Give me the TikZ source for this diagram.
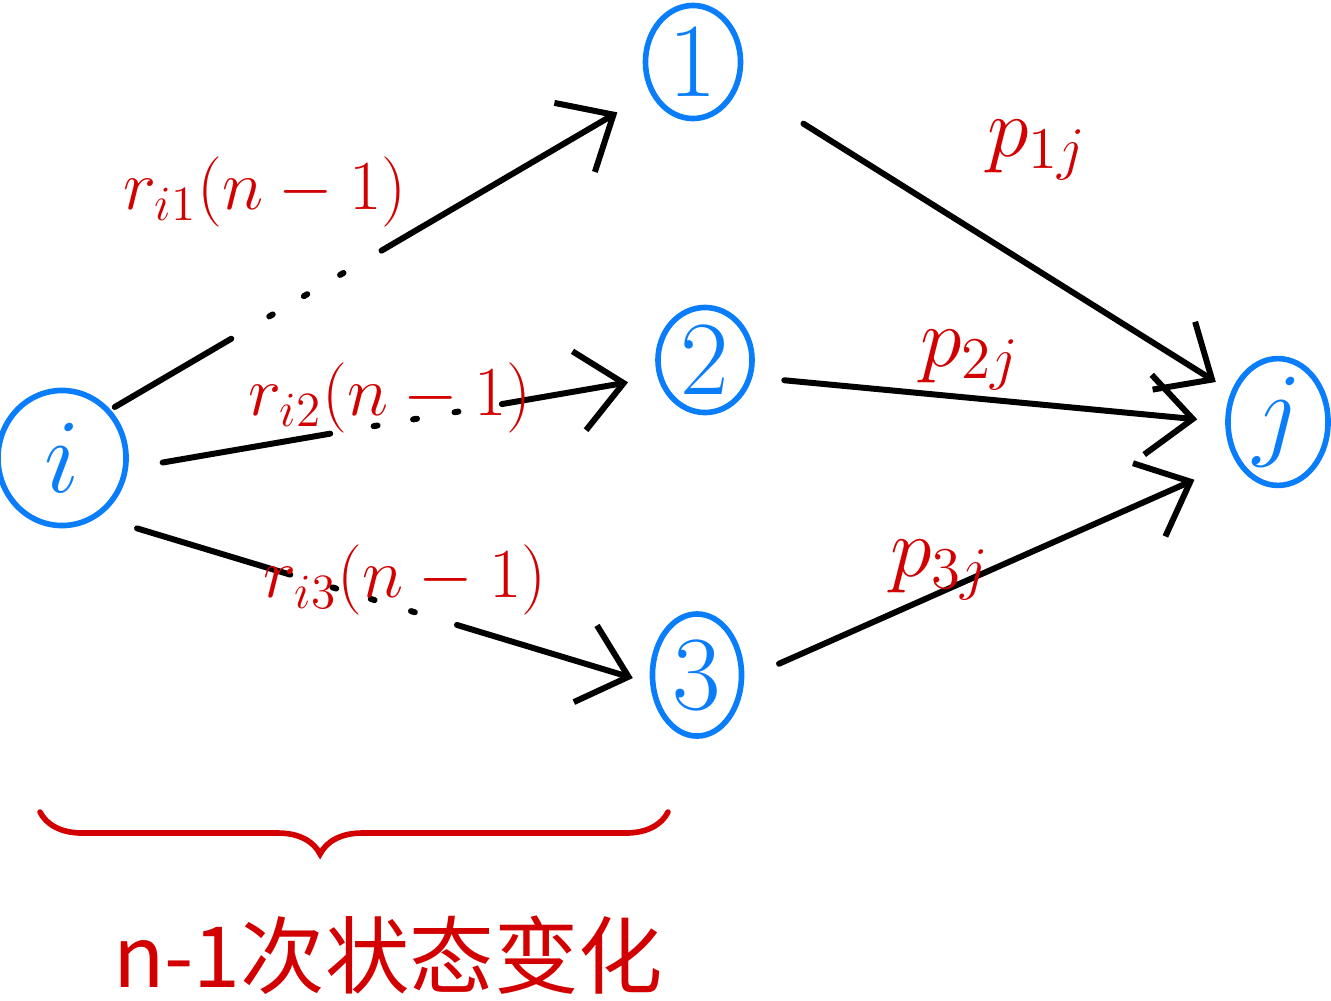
\RequirePackage{fix-cm}
\documentclass[tikz,border=0pt]{standalone}
\usepackage{amsmath}
\usepackage{fontspec}
\newfontfamily\cjkfont{Noto Sans CJK SC}
\usepackage{tikz}
\usetikzlibrary{arrows.meta,shapes.geometric,decorations.pathreplacing}
\definecolor{cBlue}{RGB}{10,125,250}
\definecolor{cRed}{RGB}{210,0,0}
\tikzset{
  statenode/.style={ellipse,draw=cBlue,line width=1.6pt,text=cBlue,
                    inner sep=0pt,font=\fontsize{30}{34}\selectfont},
  arr/.style={-{Straight Barb[length=4.5mm,width=8mm]},line width=1.7pt,
              line cap=round,line join=round},
  dotgap/.style={dash pattern=on #1 off 0.44cm on 0.04cm off 0.36cm on 0.04cm
                 off 0.38cm on 0.04cm off 0.44cm on 12cm},
  rlabel/.style={text=cRed,font=\fontsize{20}{24}\selectfont},
  plabel/.style={text=cRed,font=\fontsize{24}{28}\selectfont},
  captext/.style={text=cRed,font=\cjkfont\fontsize{24}{28}\selectfont},
  bracearr/.style={decorate,decoration={brace,amplitude=0.42cm,aspect=0.554},
                   draw=cRed,line width=1.6pt,line cap=round}
}
\begin{document}
\begin{tikzpicture}[x=0.01cm,y=-0.01cm]
  \useasboundingbox (0,0) rectangle (1331,1000);
  % states
  \node[statenode,minimum width=1.28cm,minimum height=1.35cm] (i) at (62,458) {$i$};
  \node[statenode,minimum width=0.95cm,minimum height=1.13cm] (one) at (693,62) {1};
  \node[statenode,minimum width=0.94cm,minimum height=1.05cm] (two) at (705,360) {2};
  \node[statenode,minimum width=0.89cm,minimum height=1.22cm] (three) at (697,675) {3};
  \node[statenode,minimum width=1.0cm,minimum height=1.25cm] (j) at (1278,422) {$j$};

  % transitions
  \draw[arr,dotgap=1.35cm,shorten <=0.05cm,shorten >=0.38cm] (i.45) -- (one.216);
  \draw[arr,dotgap=1.7cm,shorten <=0.35cm,shorten >=0.3cm] (i.-9) -- (two.200);
  \draw[arr,dotgap=1.6cm,shorten <=0.4cm,shorten >=0.18cm] (i.-58) -- (three.190);
  \draw[arr,shorten <=0.75cm,shorten >=0.18cm] (one.-25) -- (j.147);
  \draw[arr,shorten <=0.32cm,shorten >=0.28cm] (two.-20) -- (j.west);
  \draw[arr,shorten <=0.38cm,shorten >=0.45cm] (three.-5) -- (j.223);

  \node[rlabel] (ri1) at (265,192) {$r_{i1}(n-1)$};
  \node[rlabel] (ri2) at (390,398) {$r_{i2}(n-1)$};
  \node[rlabel] (ri3) at (405,580) {$r_{i3}(n-1)$};
  \node[plabel] (p1j) at (1037,150) {$p_{1j}$};
  \node[plabel] (p2j) at (970,360) {$p_{2j}$};
  \node[plabel] (p3j) at (940,570) {$p_{3j}$};

  % brace and caption
  \coordinate (bR) at (668,812);
  \coordinate (bL) at (40,812);
  \draw[bracearr] (bR) -- (bL);
  \node[captext] (caption) at (388,955) {n-1次状态变化};
\end{tikzpicture}
\end{document}
